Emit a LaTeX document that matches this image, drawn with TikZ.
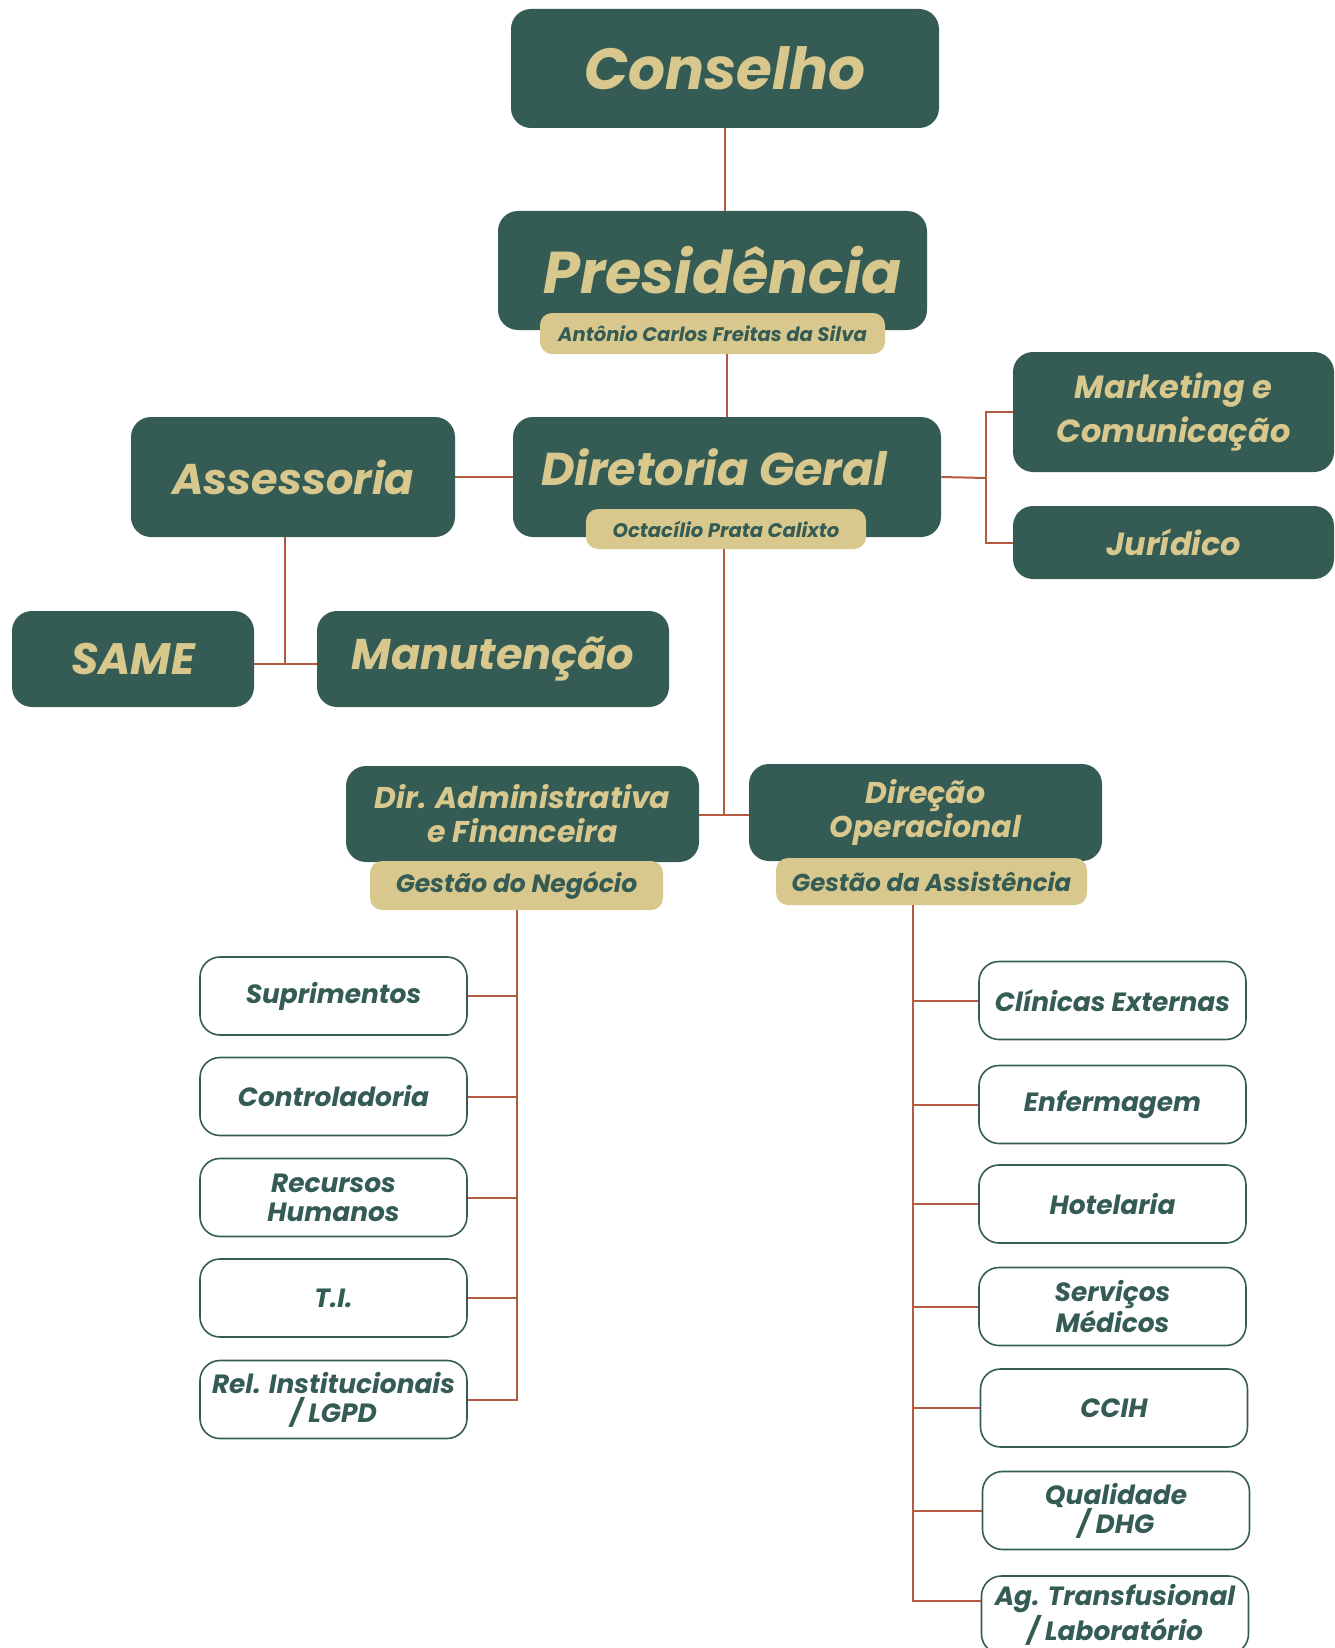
\documentclass[tikz,border=0pt]{standalone}
\usepackage{fontspec}
\setmainfont{Poppins}
\usetikzlibrary{positioning}
\definecolor{pine}{HTML}{345C55}
\definecolor{sand}{HTML}{D9C88D}
\definecolor{rust}{HTML}{B35A43}
\newcommand{\orgfont}[2]{\fontsize{#1}{#2}\selectfont\bfseries\itshape}

\begin{document}
\begin{tikzpicture}[x=0.5pt,y=-0.5pt,
  darkbox/.style={rectangle,rounded corners=10pt,fill=pine,text=sand,align=center,inner sep=0pt},
  tagbox/.style={rectangle,rounded corners=6pt,fill=sand,text=pine,align=center,inner sep=0pt},
  unitbox/.style={rectangle,rounded corners=10pt,draw=pine,line width=0.8pt,fill=white,text=pine,align=center,
    minimum width=133.5pt,minimum height=39pt,inner sep=0pt,font=\orgfont{13.2}{14.5}},
  link/.style={draw=rust,line width=1pt}]
\path[use as bounding box,fill=white] (0,0) rectangle (1334,1648);

% top of the chart
\node[darkbox,minimum width=214pt,minimum height=59.5pt,font=\orgfont{29}{32}] (conselho) at (725,68.5) {Conselho};
\node[darkbox,minimum width=214.5pt,minimum height=59.5pt,font=\orgfont{29.5}{32}] (pres) at (712.5,270.5) {\hspace*{10pt}Presidência};
\node[tagbox,minimum width=172.5pt,minimum height=20.5pt,font=\orgfont{9.8}{11}] (antonio) at (712.5,333.5) {Antônio Carlos Freitas da Silva};
\node[darkbox,minimum width=214pt,minimum height=60pt,font=\orgfont{23}{25}] (dirgeral) at (727,477) {\raisebox{5pt}[\height][\depth]{Diretoria Geral}\hspace*{13pt}};
\node[tagbox,minimum width=140pt,minimum height=20pt,font=\orgfont{9.8}{11}] (octa) at (726,529) {Octacílio Prata Calixto};

% staff units
\node[darkbox,minimum width=162pt,minimum height=60pt,font=\orgfont{21.5}{24}] (assess) at (293,477) {Assessoria};
\node[darkbox,minimum width=160.5pt,minimum height=60pt,font=\orgfont{16}{22}] (mkt) at (1173.5,412) {Marketing e\\Comunicação};
\node[darkbox,minimum width=160.5pt,minimum height=36.5pt,font=\orgfont{16}{22}] (jur) at (1173.5,542.5) {Jurídico};
\node[darkbox,minimum width=121pt,minimum height=48pt,font=\orgfont{22}{24}] (same) at (133,659) {SAME};
\node[darkbox,minimum width=176pt,minimum height=48pt,font=\orgfont{21.5}{24}] (manut) at (493,659) {Manutenção};

% the two directions
\node[darkbox,minimum width=176.5pt,minimum height=48pt,font=\orgfont{15}{17}] (diradm) at (522.5,814) {Dir. Administrativa\\e Financeira};
\node[tagbox,minimum width=146.5pt,minimum height=24.5pt,font=\orgfont{12.5}{14}] (gneg) at (516.5,885.5) {Gestão do Negócio};
\node[darkbox,minimum width=176.5pt,minimum height=48.5pt,font=\orgfont{15}{17}] (dirop) at (925.5,812.5) {Direção\\Operacional};
\node[tagbox,minimum width=155.5pt,minimum height=23.5pt,font=\orgfont{12.2}{14}] (gassist) at (931.5,881.5) {Gestão da Assistência};

% business side
\node[unitbox] (supr) at (333.5,996) {Suprimentos};
\node[unitbox] (contr) at (333.5,1096.5) {Controladoria};
\node[unitbox] (rh) at (333.5,1197.5) {Recursos\\Humanos};
\node[unitbox] (ti) at (333.5,1298) {T.I.};
\node[unitbox] (rel) at (333.5,1399.5) {Rel. Institucionais\\/ LGPD};

% care side
\node[unitbox] (clin) at (1112.5,1000.5) {Clínicas Externas};
\node[unitbox] (enf) at (1112.5,1104.5) {Enfermagem};
\node[unitbox] (hot) at (1112.5,1204) {Hotelaria};
\node[unitbox] (serv) at (1112.5,1306.5) {Serviços\\Médicos};
\node[unitbox] (ccih) at (1114,1408) {CCIH};
\node[unitbox] (qual) at (1116,1510.5) {Qualidade\\/ DHG};
\node[unitbox,font=\orgfont{13.2}{17.5}] (ag) at (1115,1615) {Ag. Transfusional\\/ Laboratório};

\coordinate (mbus) at (724,815);
\coordinate (abus) at (285,664);
\coordinate (sbus) at (986,478);
\coordinate (rbus) at (913,905);

\draw[link] (conselho.south) -- (conselho.south |- pres.north);
\draw[link] (antonio.south -| dirgeral.north) -- (dirgeral.north);
\draw[link] (assess.east) -- (dirgeral.west);
\draw[link] (dirgeral.east) -- (sbus);
\draw[link] (mkt.west) -| (sbus) |- (jur.west);
\draw[link] (assess.south -| abus) -- (abus);
\draw[link] (same.east |- abus) -- (manut.west |- abus);
\draw[link] (octa.south -| mbus) -- (mbus);
\draw[link] (diradm.east |- mbus) -- (dirop.west |- mbus);

\draw[link] (gneg.south) |- (rel.east);
\foreach \n in {supr,contr,rh,ti}
  \draw[link] (\n.east) -- (\n.east -| gneg.south);
\draw[link] (rbus) |- ([yshift=7pt]ag.west);
\foreach \n in {clin,enf,hot,serv,ccih,qual}
  \draw[link] (\n.west) -- (\n.west -| rbus);

\end{tikzpicture}
\end{document}
